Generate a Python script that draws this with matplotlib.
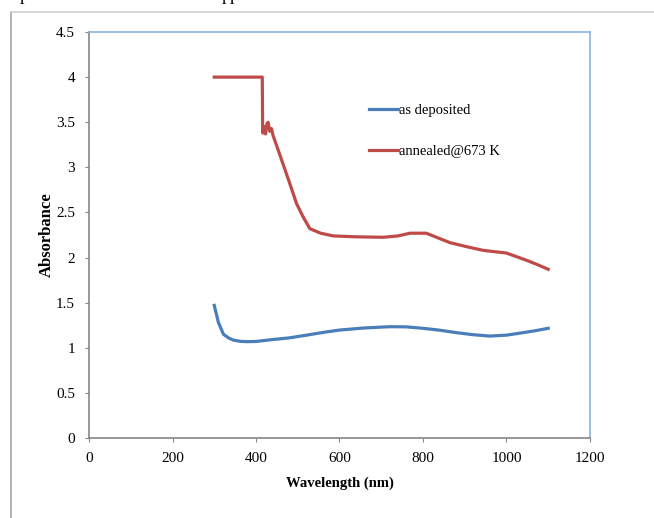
import numpy as np
import matplotlib.pyplot as plt
from matplotlib.lines import Line2D

plt.rcParams['font.family'] = ['Liberation Serif', 'DejaVu Serif']

# as deposited
dep_x = [300, 310, 322, 334, 346, 362, 378, 400, 441, 480, 521, 560, 601, 660, 721, 760, 800, 840, 880, 920, 960, 1000, 1040, 1070, 1100]
dep_y = [1.47, 1.28, 1.15, 1.11, 1.085, 1.072, 1.068, 1.07, 1.092, 1.11, 1.14, 1.17, 1.197, 1.22, 1.234, 1.232, 1.216, 1.195, 1.168, 1.145, 1.13, 1.14, 1.168, 1.19, 1.216]

# annealed@673 K
ann_x = [300, 350, 415, 416, 419, 423, 426, 429, 433, 437, 441, 445, 460, 481, 497, 513, 529, 555, 585, 640, 705, 740, 769, 808, 835, 865, 905, 944, 1000, 1048, 1075, 1100]
ann_y = [4.0, 4.0, 4.0, 3.38, 3.45, 3.37, 3.48, 3.50, 3.40, 3.43, 3.35, 3.30, 3.10, 2.82, 2.60, 2.45, 2.32, 2.27, 2.24, 2.23, 2.225, 2.24, 2.27, 2.27, 2.22, 2.165, 2.12, 2.08, 2.05, 1.97, 1.92, 1.87]

fig = plt.figure(figsize=(6.54, 5.18), dpi=100)
ax = fig.add_axes([0.1361, 0.1544, 0.766, 0.7838])

ax.plot(dep_x, dep_y, color='#4a7ebb', lw=2.3, label='as deposited')
ax.plot(ann_x, ann_y, color='#be4b48', lw=2.3, label='annealed@673 K')

ax.set_xlim(0, 1200)
ax.set_ylim(0, 4.5)
ax.set_xticks(np.arange(0, 1201, 200))
ax.set_yticks(np.arange(0, 4.51, 0.5))
ax.set_yticklabels(['0', '0.5', '1', '1.5', '2', '2.5', '3', '3.5', '4', '4.5'])
ax.tick_params(direction='out', length=3, color='#868686', labelsize=11, pad=7)

for s in ['left', 'bottom']:
    ax.spines[s].set_color('#868686')
    ax.spines[s].set_linewidth(1.2)
for s in ['top', 'right']:
    ax.spines[s].set_color('#8db3e2')
    ax.spines[s].set_linewidth(1.2)

ax.set_xlabel('Wavelength (nm)', fontsize=10.5, fontweight='bold', labelpad=8)
ax.set_ylabel('Absorbance', fontsize=12, fontweight='bold', labelpad=1)

ax.legend(loc='upper left', bbox_to_anchor=(0.532, 0.855), frameon=False, fontsize=10.5,
          handlelength=2.0, handletextpad=0.1, labelspacing=1.9)

# page frame and clipped text above the chart
fig.add_artist(Line2D([11/654, 11/654], [0, 1 - 12/518], color='#a6a6a6', lw=1.2))
fig.add_artist(Line2D([11/654, 1], [1 - 12/518, 1 - 12/518], color='#d0d0d0', lw=1.2))
fig.text(20/654, 1.0, 'p', fontsize=13, va='baseline')
fig.text(222/654, 1.0, 'pp', fontsize=13, va='baseline')

fig.savefig('out.png', dpi=100)
